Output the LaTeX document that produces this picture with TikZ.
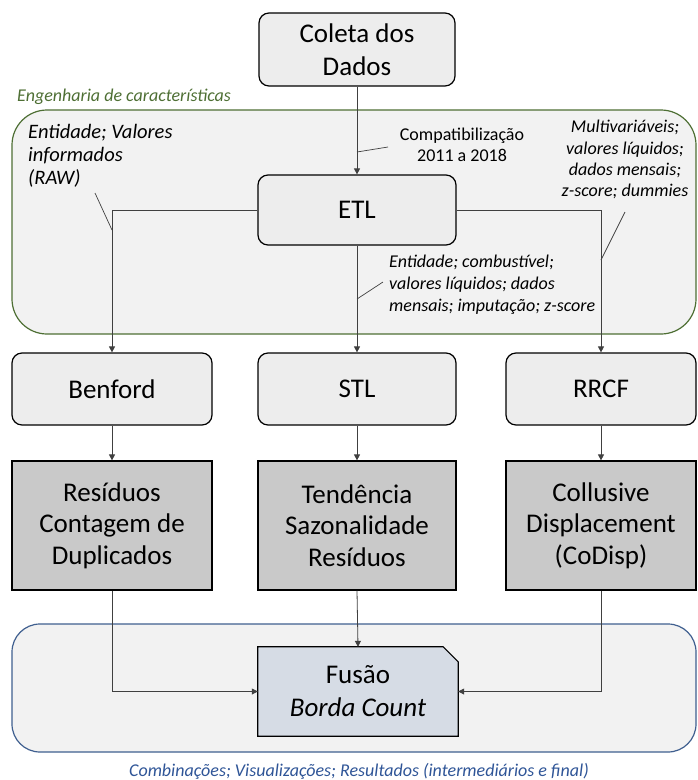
\documentclass[tikz,border=0pt]{standalone}
\usepackage{fontspec}
\setmainfont{Carlito}
\usetikzlibrary{arrows.meta}
\definecolor{boxfill}{HTML}{EDEDED}
\definecolor{regionfill}{HTML}{F2F2F2}
\definecolor{greenline}{HTML}{4E6F34}
\definecolor{blueline}{HTML}{3F5F8F}
\definecolor{resfill}{HTML}{C9C9C9}
\definecolor{fusfill}{HTML}{D6DCE5}
\definecolor{linegray}{HTML}{404040}
\definecolor{captionblue}{HTML}{2F5597}
\tikzset{
  procbox/.style={draw=black, line width=1.2pt, fill=boxfill, rounded corners=10pt,
    align=center, font=\fontsize{27}{33}\selectfont, inner sep=0pt},
  resbox/.style={draw=black, line width=1.2pt, fill=resfill,
    align=center, font=\fontsize{27}{31.5}\selectfont, inner sep=0pt},
  region/.style={line width=1.2pt, fill=regionfill, inner sep=0pt},
  annot/.style={font=\fontsize{18}{22}\selectfont\itshape, inner sep=0pt},
  conn/.style={draw=linegray, line width=0.8pt, -{Triangle[length=6pt,width=6pt]}},
  leader/.style={draw=linegray, line width=0.7pt}
}
\begin{document}
\begin{tikzpicture}[x=1pt,y=-1pt]
\useasboundingbox (0,0) rectangle (697,780);
% regions
\node[region, draw=greenline, rounded corners=35pt, minimum width=684pt, minimum height=224pt] (feat) at (354,222) {};
\node[region, draw=blueline, rounded corners=28pt, minimum width=684pt, minimum height=128pt] (comb) at (354,688) {};
\node[annot, text=greenline, anchor=base west] (englbl) at (17,101) {Engenharia de características};
\node[annot, text=captionblue, anchor=base] (comblbl) at (359,776) {Combinações; Visualizações; Resultados (intermediários e final)};
% process boxes
\node[procbox, minimum width=196pt, minimum height=73pt] (coleta) at (357,49.5) {Coleta dos\\Dados};
\node[procbox, minimum width=198pt, minimum height=70pt] (etl) at (357,210) {ETL};
\node[procbox, minimum width=200pt, minimum height=72pt] (benford) at (112,389) {Benford};
\node[procbox, minimum width=198pt, minimum height=72pt] (stl) at (357,389) {STL};
\node[procbox, minimum width=190pt, minimum height=72pt] (rrcf) at (601,389) {RRCF};
% result boxes
\node[resbox, minimum width=200pt, minimum height=129pt] (res1) at (112,525.5) {Resíduos\\Contagem de\\Duplicados};
\node[resbox, minimum width=198pt, minimum height=129pt] (res2) at (357,525.5) {Tendência\\Sazonalidade\\Resíduos};
\node[resbox, minimum width=190pt, minimum height=129pt] (res3) at (601,525.5) {Collusive\\Displacement\\(CoDisp)};
% fusion
\node[minimum width=200pt, minimum height=89pt, inner sep=0pt] (fus) at (358,691.5) {};
\fill[fusfill, draw=black, line width=1.2pt] (fus.south west) -- (fus.north west)
  -- ([xshift=-15pt]fus.north east) -- ([yshift=-15pt]fus.north east) -- (fus.south east) -- cycle;
\node[align=center, font=\fontsize{27}{33}\selectfont, inner sep=0pt] (fustxt) at (fus.center) {Fusão\\\textit{Borda Count}};
% annotations
\node[font=\fontsize{18}{21}\selectfont, align=center, inner sep=0pt] (compat) at (462,145) {Compatibilização\\2011 a 2018};
\node[annot, font=\fontsize{20.5}{23}\selectfont\itshape, align=left, anchor=north west] (ann1) at (28,124) {Entidade; Valores\\informados\\(RAW)};
\node[annot, font=\fontsize{18}{21.3}\selectfont\itshape, align=center, anchor=north] (ann2) at (625,120) {Multivariáveis;\\valores líquidos;\\dados mensais;\\z-score; dummies};
\node[annot, align=left, anchor=north west] (ann3) at (389,255) {Entidade; combustível;\\valores líquidos; dados\\mensais; imputação; z-score};
% connectors
\draw[conn] (coleta.south) -- (etl.north);
\draw[conn] (etl.west) -| (benford.north);
\draw[conn] (etl.south) -- (stl.north);
\draw[conn] (etl.east) -| (rrcf.north);
\draw[conn] (benford.south) -- (res1.north);
\draw[conn] (stl.south) -- (res2.north);
\draw[conn] (rrcf.south) -- (res3.north);
\draw[conn] (res1.south) |- (fus.west);
\draw[conn] (res2.south) -- (fus.north);
\draw[conn] (res3.south) |- (fus.east);
% leaders
\coordinate (l1a) at (95,193); \coordinate (l1b) at (112,230);
\coordinate (l2a) at (388,147); \coordinate (l2b) at (357,152);
\coordinate (l3a) at (625,212); \coordinate (l3b) at (601,260);
\coordinate (l4a) at (383,282); \coordinate (l4b) at (357,299);
\draw[leader] (l1a) -- (l1b);
\draw[leader] (l2a) -- (l2b);
\draw[leader] (l3a) -- (l3b);
\draw[leader] (l4a) -- (l4b);
\end{tikzpicture}
\end{document}
